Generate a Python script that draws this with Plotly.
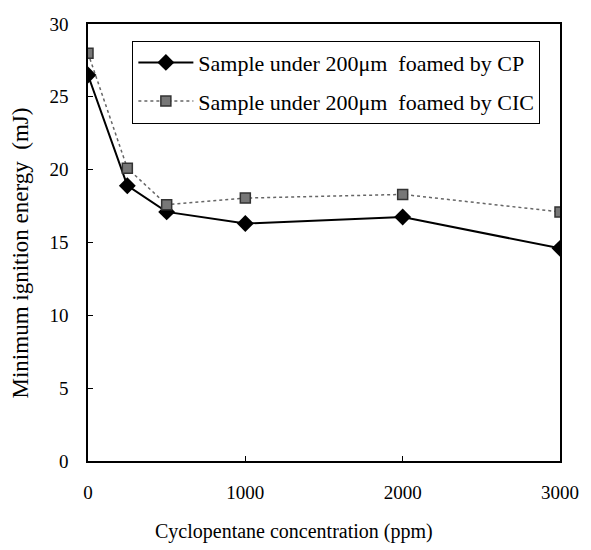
import plotly.graph_objects as go

# Cyclopentane concentration (ppm)
concentration = [0, 250, 500, 1000, 2000, 3000]
# Minimum ignition energy (mJ)
mie_cp = [26.5, 18.9, 17.1, 16.3, 16.75, 14.6]
mie_cic = [28.0, 20.1, 17.6, 18.05, 18.3, 17.1]

series_names = [
    "Sample under 200\u03bcm  foamed by CP",
    "Sample under 200\u03bcm  foamed by CIC",
]
x_ticks = [0, 1000, 2000, 3000]
y_ticks = [0, 5, 10, 15, 20, 25, 30]
x_title = "Cyclopentane concentration (ppm)"
y_title = "Minimum ignition energy  (mJ)"

serif = "Liberation Serif, Times New Roman, serif"

fig = go.Figure()
fig.add_trace(go.Scatter(
    x=concentration, y=mie_cp, name=series_names[0], mode="lines+markers",
    legendgroup="cp",
    line=dict(color="black", width=2),
    marker=dict(symbol="diamond", size=13, color="black"),
))
fig.add_trace(go.Scatter(
    x=concentration, y=mie_cic, name=series_names[1], mode="lines+markers",
    legendgroup="cic",
    line=dict(color="#666666", width=1.5, dash="dot"),
    marker=dict(symbol="square", size=10, color="#777777",
                line=dict(color="#333333", width=1.5)),
))

axis_common = dict(
    showline=True, linecolor="black", linewidth=1.5, mirror=True,
    ticks="inside", ticklen=5, tickcolor="black",
    showgrid=False, zeroline=False,
    tickfont=dict(family=serif, size=19, color="black"),
)

fig.update_layout(
    width=591, height=550,
    margin=dict(l=88, r=26, t=24, b=89),
    paper_bgcolor="white", plot_bgcolor="white",
    font=dict(family=serif, color="black"),
    xaxis=dict(range=[0, 3000], tickvals=x_ticks, ticklabelstandoff=13,
               **axis_common),
    yaxis=dict(range=[0, 30], tickvals=y_ticks, ticklabelstandoff=14,
               **axis_common),
    legend=dict(
        x=0.094, y=0.962, xanchor="left", yanchor="top",
        bgcolor="white", bordercolor="black", borderwidth=1,
        font=dict(family=serif, size=22, color="black"),
        itemwidth=55, tracegroupgap=7,
    ),
    showlegend=True,
)

# Axis titles placed as annotations (centred on the figure rather than the axis)
fig.add_annotation(
    text=x_title, xref="paper", yref="paper", x=0.436, y=-0.162,
    xanchor="center", yanchor="middle", showarrow=False,
    font=dict(family=serif, size=20, color="black"),
)
fig.add_annotation(
    text=y_title, xref="paper", yref="paper", x=-0.143, y=0.476,
    xanchor="center", yanchor="middle", showarrow=False, textangle=-90,
    font=dict(family=serif, size=23, color="black"),
)

fig.write_html("out.html")
